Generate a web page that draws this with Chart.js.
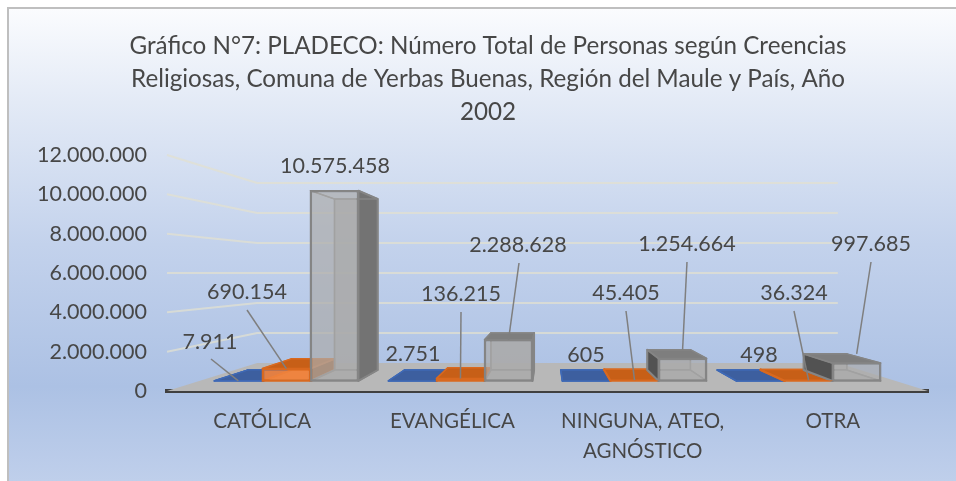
<!DOCTYPE html>
<html><head><meta charset="utf-8">
<style>html,body{margin:0;padding:0;background:#fff}#w{position:relative;width:956px;height:481px}</style>
<script src="https://cdn.jsdelivr.net/npm/chart.js@4"></script>
</head><body><div id="w"><canvas id="c" width="956" height="481"></canvas></div>
<script>
const categories = ["CATÓLICA","EVANGÉLICA",["NINGUNA, ATEO,","AGNÓSTICO"],"OTRA"];
const seriesNames = ["Comuna de Yerbas Buenas","Región del Maule","País"];
const yerbasBuenas = [7911,2751,605,498];
const maule = [690154,136215,45405,36324];
const pais = [10575458,2288628,1254664,997685];
const titleLines = ["Gráfico N°7: PLADECO: Número Total de Personas según Creencias","Religiosas, Comuna de Yerbas Buenas, Región del Maule y País, Año","2002"];

const FONT = 'Lato, Carlito, Calibri, sans-serif';
const INK = '#474747';
const S_FRONT = 0.915, S_REAR = 0.822, S_WALL = 0.763;
const HORIZON_VALUE = 6000000;
const FACE = [
  {front:'rgba(68,114,196,.9)', edge:'#3f69b5', top:'#3d5f9f', side:'#2f4a80', back:'rgba(68,114,196,.5)'},
  {front:'rgba(240,130,60,.92)', edge:'#d9691f', top:'#c75f17', side:'#a34c10', back:'rgba(237,125,49,.5)'},
  {front:'rgba(172,172,172,.72)', edge:'#858585', top:'#7e7e7e', side:'#737373', back:'rgba(165,165,165,.7)', sideLeft:'#525252'}
];
// label centres [x,y] on the page, per series then category
const labelAt = [
  [[210,342],[413,354],[586,355],[759,355]],
  [[247,292],[461,294],[626,293],[794,293]],
  [[335,166],[518,245],[687,244],[871,244]]
];
const leaderFrom = [
  [[211,359],null,null,null],
  [[247,310],[461,312],[626,311],[794,311]],
  [null,[519,263],[687,262],[871,262]]
];
const leaderDepth = [
  [S_FRONT,S_FRONT,S_FRONT,S_FRONT],
  [S_FRONT,S_FRONT,S_FRONT,S_FRONT],
  [S_FRONT,S_FRONT,S_REAR,S_REAR]
];
const fmt = v => String(v).replace(/\B(?=(\d{3})+(?!\d))/g,'.');

function vanish(chart){
  const a = chart.chartArea;
  return {x:(a.left+a.right)/2, y:chart.scales.y.getPixelForValue(HORIZON_VALUE)};
}
function pr(V,x,y,s){ return [V.x+(x-V.x)*s, V.y+(y-V.y)*s]; }
function poly(ctx,pts,fill,stroke,w){
  ctx.beginPath(); pts.forEach((p,i)=> i?ctx.lineTo(p[0],p[1]):ctx.moveTo(p[0],p[1])); ctx.closePath();
  if(fill){ctx.fillStyle=fill;ctx.fill();}
  if(stroke){ctx.strokeStyle=stroke;ctx.lineWidth=w||1.5;ctx.stroke();}
}

const scene = {
  id:'scene',
  afterLayout(chart){ chart.titleBlock.left += 28; },
  beforeDraw(chart){
    const ctx=chart.ctx,W=chart.width,H=chart.height;
    const g=ctx.createLinearGradient(0,8,0,H);
    g.addColorStop(0,'#fbfcfe');g.addColorStop(.2,'#e3eaf6');g.addColorStop(.5,'#c3d2ec');
    g.addColorStop(.8,'#acc1e4');g.addColorStop(1,'#bfcfeb');
    ctx.save();
    ctx.fillStyle='#fff';ctx.fillRect(0,0,W,H);
    ctx.fillStyle=g;ctx.fillRect(8,8,W-8,H-8);
    ctx.strokeStyle='#bfbfbf';ctx.lineWidth=2;
    ctx.beginPath();ctx.moveTo(8,H);ctx.lineTo(8,8);ctx.lineTo(W,8);ctx.stroke();
    ctx.restore();
  },
  beforeDatasetsDraw(chart){
    const ctx=chart.ctx,a=chart.chartArea,V=vanish(chart),y=chart.scales.y;
    ctx.save();
    ctx.lineJoin='round';
    ctx.strokeStyle='rgba(226,224,208,.75)';ctx.lineWidth=2;
    y.ticks.forEach(t=>{
      if(t.value===0) return;
      const py=y.getPixelForValue(t.value);
      const bl=pr(V,a.left,py,S_WALL), br=pr(V,a.right,py,S_WALL);
      ctx.beginPath();ctx.moveTo(a.left,py);ctx.lineTo(bl[0],bl[1]);ctx.lineTo(br[0],br[1]);ctx.stroke();
    });
    poly(ctx,[[a.left,a.bottom],pr(V,a.left,a.bottom,S_WALL),pr(V,a.right,a.bottom,S_WALL),[a.right,a.bottom]],'#b8b8b8');
    chart.data.datasets.forEach((ds,i)=>{
      const c=FACE[i];
      chart.getDatasetMeta(i).data.forEach(el=>{
        const p=el.getProps(['x','y','base','width'],true);
        const L=p.x-p.width/2,R=p.x+p.width/2,T=p.y,B=p.base;
        const f=(x,yy)=>pr(V,x,yy,S_FRONT), r=(x,yy)=>pr(V,x,yy,S_REAR);
        const backFace=[r(L,T),r(R,T),r(R,B),r(L,B)];
        const right=[f(R,T),r(R,T),r(R,B),f(R,B)], left=[f(L,T),r(L,T),r(L,B),f(L,B)];
        const top=[f(L,T),f(R,T),r(R,T),r(L,T)], bottom=[f(L,B),f(R,B),r(R,B),r(L,B)];
        poly(ctx,backFace,c.back,c.edge,1.5);
        poly(ctx,bottom,c.back,c.edge,1.5);
        poly(ctx,right,R<V.x?c.side:null,c.edge,R<V.x?2:1.2);
        poly(ctx,left,L>V.x?(c.sideLeft||c.side):null,c.edge,L>V.x?2:1.2);
        const topUp=r(L,T)[1]<f(L,T)[1];
        poly(ctx,top,topUp?c.top:null,c.edge,1.5);
      });
    });
    ctx.restore();
    // the library's bars are the front faces: same scale positions, seen at the bars' depth
    ctx.save();
    ctx.translate(V.x,V.y);ctx.scale(S_FRONT,S_FRONT);ctx.translate(-V.x,-V.y);
  },
  afterDatasetsDraw(chart){
    const ctx=chart.ctx;
    ctx.restore();
    const V=vanish(chart);
    ctx.save();
    ctx.strokeStyle='#7f7f7f';ctx.lineWidth=1.5;
    ctx.fillStyle=INK;ctx.font='21.5px '+FONT;ctx.textAlign='center';ctx.textBaseline='middle';
    chart.data.datasets.forEach((ds,i)=>{
      chart.getDatasetMeta(i).data.forEach((el,j)=>{
        const p=el.getProps(['x','y'],true);
        const from=leaderFrom[i][j];
        if(from){
          const tipX=pr(V,p.x,p.y,S_FRONT)[0], tipY=pr(V,p.x,p.y,leaderDepth[i][j])[1];
          ctx.beginPath();ctx.moveTo(from[0],from[1]);ctx.lineTo(tipX,tipY);ctx.stroke();
        }
        ctx.fillText(fmt(ds.data[j]),labelAt[i][j][0],labelAt[i][j][1]);
      });
    });
    ctx.restore();
  }
};

const mk=(label,data,i)=>({label,data,backgroundColor:FACE[i].front,borderColor:FACE[i].edge,borderWidth:2,borderSkipped:false,clip:false,barPercentage:1,categoryPercentage:0.828});
new Chart(document.getElementById('c'),{
  type:'bar',
  data:{labels:categories,datasets:[mk(seriesNames[0],yerbasBuenas,0),mk(seriesNames[1],maule,1),mk(seriesNames[2],pais,2)]},
  plugins:[scene],
  options:{
    responsive:false,animation:false,
    layout:{padding:{left:20,right:28,top:0,bottom:0}},
    plugins:{
      legend:{display:false},tooltip:{enabled:false},
      title:{display:true,text:titleLines,color:INK,font:{family:FONT,size:24.2,weight:'normal',lineHeight:33/24.2},padding:{top:30,bottom:26}}
    },
    scales:{
      x:{
        grid:{display:false,drawTicks:false},border:{display:true,color:'#404040',width:4},
        ticks:{color:INK,font:{family:FONT,size:20.5,lineHeight:30/20.5},padding:15,maxRotation:0,autoSkip:false},
        afterFit(s){s.height=90;}
      },
      y:{
        min:0,max:12000000,
        grid:{display:false,drawTicks:false},border:{display:false},
        ticks:{stepSize:2000000,color:INK,font:{family:FONT,size:21.5},padding:20,callback:v=>fmt(v),autoSkip:false},
        afterFit(s){s.width=147;}
      }
    }
  }
});
</script></body></html>
